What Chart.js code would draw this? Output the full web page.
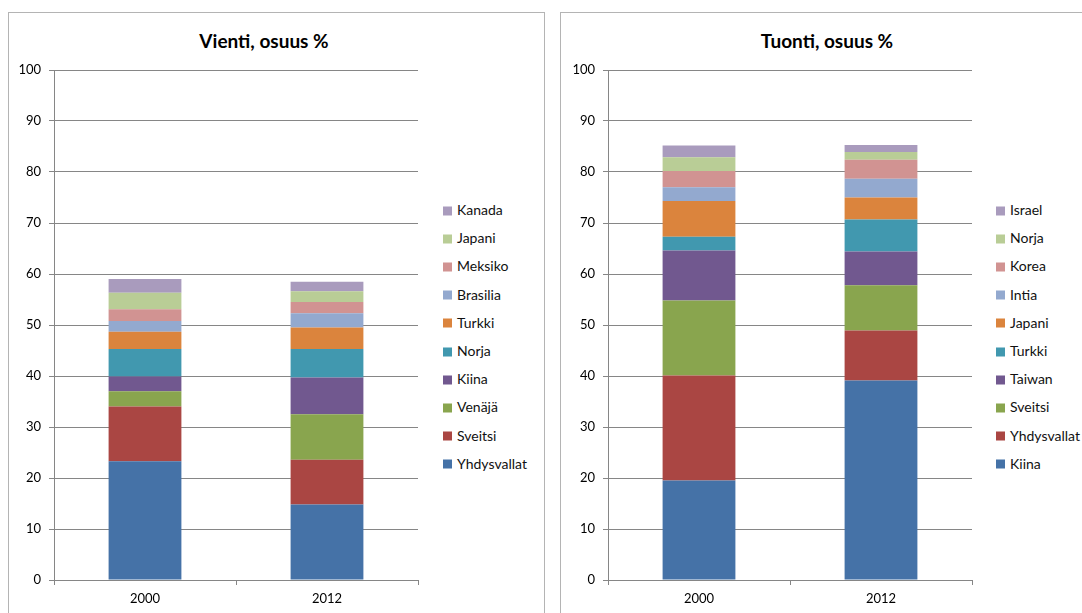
<!DOCTYPE html>
<html>
<head>
<meta charset="utf-8">
<script src="https://cdn.jsdelivr.net/npm/chart.js@4/dist/chart.umd.min.js"></script>
<style>
  html, body { margin: 0; padding: 0; background: #fff; width: 1082px; height: 613px; overflow: hidden; }
  body { position: relative; font-family: Lato, "Open Sans", sans-serif; }
  .box { position: absolute; border: 1px solid #b4b4b4; }
  .title { position: absolute; font-weight: bold; font-size: 19px; color: #000; transform: translate(-50%, -50%); white-space: nowrap; }
  canvas { position: absolute; }
  .legend { position: absolute; font-size: 14px; color: #111; }
  .legend div { position: absolute; white-space: nowrap; transform: translateY(-50%); }
  .legend span { display: inline-block; width: 9px; height: 9px; margin-right: 5px; vertical-align: -0.5px; }
</style>
</head>
<body>
<div class="box" style="left:8px; top:12px; width:535px; height:620px;"></div>
<div class="box" style="left:560px; top:12px; width:540px; height:620px;"></div>
<div class="title" style="left:264px; top:40px;">Vienti, osuus %</div>
<div class="title" style="left:827px; top:40px;">Tuonti, osuus %</div>
<canvas id="vienti" width="425" height="613" style="left:0; top:0;"></canvas>
<canvas id="tuonti" width="425" height="613" style="left:554px; top:0;"></canvas>
<div class="legend" id="vientiLegend" style="left:443px; top:209px;"></div>
<div class="legend" id="tuontiLegend" style="left:996px; top:209px;"></div>
<script>
// Categories
const years = ['2000', '2012'];

// Vienti (export share %), bottom to top
const vientiSeries = ['Yhdysvallat', 'Sveitsi', 'Venäjä', 'Kiina', 'Norja', 'Turkki', 'Brasilia', 'Meksiko', 'Japani', 'Kanada'];
const vientiYhdysvallat = [23.3, 14.8];
const vientiSveitsi = [10.7, 8.8];
const vientiVenaja = [3.0, 8.9];
const vientiKiina = [2.9, 7.2];
const vientiNorja = [5.4, 5.6];
const vientiTurkki = [3.4, 4.2];
const vientiBrasilia = [2.1, 2.8];
const vientiMeksiko = [2.3, 2.2];
const vientiJapani = [3.2, 2.1];
const vientiKanada = [2.7, 1.9];

// Tuonti (import share %), bottom to top
const tuontiSeries = ['Kiina', 'Yhdysvallat', 'Sveitsi', 'Taiwan', 'Turkki', 'Japani', 'Intia', 'Korea', 'Norja', 'Israel'];
const tuontiKiina = [19.5, 39.1];
const tuontiYhdysvallat = [20.6, 9.8];
const tuontiSveitsi = [14.7, 8.9];
const tuontiTaiwan = [9.8, 6.6];
const tuontiTurkki = [2.7, 6.3];
const tuontiJapani = [7.0, 4.3];
const tuontiIntia = [2.7, 3.7];
const tuontiKorea = [3.2, 3.7];
const tuontiNorja = [2.7, 1.5];
const tuontiIsrael = [2.3, 1.4];

// Excel 2007 default palette
const palette = ['#4572a7', '#aa4643', '#89a54e', '#71588f', '#4198af', '#db843d', '#93a9cf', '#d19392', '#b9cd96', '#a99bbd'];

const axisColor = '#868686';

function buildChart(canvasId, names, values) {
  const datasets = names.map((name, i) => ({
    label: name,
    data: values[i],
    backgroundColor: palette[i],
    borderWidth: 0,
    barPercentage: 0.4,
    categoryPercentage: 1.0
  }));

  return new Chart(document.getElementById(canvasId).getContext('2d'), {
    type: 'bar',
    data: { labels: years, datasets },
    options: {
      responsive: false,
      animation: false,
      layout: { padding: { top: 70, right: 7, bottom: 5, left: 0 } },
      plugins: {
        legend: { display: false },
        tooltip: { enabled: false }
      },
      scales: {
        x: {
          stacked: true,
          afterFit: (scale) => { scale.height = 28; },
          grid: { offset: true, drawOnChartArea: false, drawTicks: true, tickLength: 5, color: axisColor },
          border: { color: axisColor, width: 1 },
          ticks: { color: '#000', padding: 6, font: { family: 'Lato', size: 13 } }
        },
        y: {
          stacked: true,
          min: 0,
          max: 100,
          afterFit: (scale) => { scale.width = 54; },
          grid: { color: axisColor, tickLength: 5 },
          border: { color: axisColor, width: 1 },
          ticks: { stepSize: 10, color: '#000', padding: 8, font: { family: 'Lato', size: 13 } }
        }
      }
    }
  });
}

function buildLegend(elId, names) {
  const el = document.getElementById(elId);
  // Legend lists the top series first, like the stack
  names.slice().reverse().forEach((name, i) => {
    const idx = names.length - 1 - i;
    const item = document.createElement('div');
    item.style.top = (i * 28.2) + 'px';
    item.innerHTML = '<span style="background:' + palette[idx] + '"></span>' + name;
    el.appendChild(item);
  });
}

buildChart('vienti', vientiSeries, [
  vientiYhdysvallat, vientiSveitsi, vientiVenaja, vientiKiina, vientiNorja,
  vientiTurkki, vientiBrasilia, vientiMeksiko, vientiJapani, vientiKanada
]);
buildChart('tuonti', tuontiSeries, [
  tuontiKiina, tuontiYhdysvallat, tuontiSveitsi, tuontiTaiwan, tuontiTurkki,
  tuontiJapani, tuontiIntia, tuontiKorea, tuontiNorja, tuontiIsrael
]);
buildLegend('vientiLegend', vientiSeries);
buildLegend('tuontiLegend', tuontiSeries);
</script>
</body>
</html>
